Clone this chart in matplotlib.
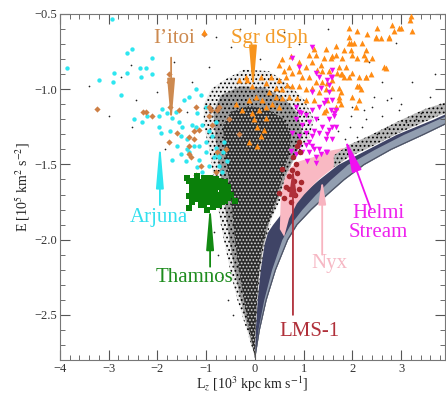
import matplotlib
matplotlib.use('Agg')
import matplotlib.pyplot as plt
from matplotlib.patches import Polygon
from matplotlib.ticker import MultipleLocator

plt.rcParams['font.family'] = ['Liberation Serif', 'DejaVu Serif']
plt.rcParams['mathtext.fontset'] = 'stix'
plt.rcParams['hatch.linewidth'] = 0.8

# ---------------- data (Lz [1e3 kpc km/s], E [1e5 km^2/s^2]) ----------------
arjuna = [(-2.94, -0.53), (-3.86, -0.86), (-3.20, -0.94), (-2.92, -0.95), (-2.52, -0.73), (-2.63, -0.76),
          (-2.90, -0.89), (-2.63, -0.89), (-2.36, -0.86), (-2.24, -0.86), (-2.11, -0.79), (-2.34, -0.92),
          (-2.11, -0.90), (-2.75, -1.04), (-1.91, -1.13), (-1.97, -1.18), (-1.81, -1.16), (-1.62, -1.15),
          (-1.21, -1.00), (-1.36, -1.05), (-1.46, -1.07), (-1.11, -1.04), (-1.70, -1.19), (-1.56, -1.22),
          (-1.19, -1.16), (-1.01, -1.12), (-2.48, -1.20), (-2.32, -1.22), (-2.22, -1.18), (-1.97, -1.25),
          (-1.93, -1.29), (-1.75, -1.28), (-1.52, -1.31), (-1.21, -1.25), (-1.09, -1.24), (-0.94, -1.28),
          (-0.80, -1.22), (-1.60, -1.38), (-1.52, -1.43), (-1.36, -1.42), (-1.15, -1.38), (-1.01, -1.35),
          (-0.88, -1.31), (-1.15, -1.47), (-1.01, -1.42), (-0.80, -1.39), (-0.74, -1.45), (-0.64, -1.35),
          (-1.19, -1.52), (-1.09, -1.55), (-0.94, -1.51), (-0.74, -1.51), (-0.68, -1.55), (-1.29, -1.24),
          (-1.40, -1.40), (-1.70, -1.47), (-1.42, -1.48), (-1.25, -1.38), (-0.84, -1.45), (-0.78, -1.43),
          (-1.40, -1.33), (-1.50, -1.25), (-0.57, -1.48), (-0.66, -1.42)]

itoi = [(-3.24, -1.13), (-2.30, -1.15), (-2.11, -1.18), (-2.24, -1.15), (-1.77, -0.95), (-1.77, -0.90),
        (-1.75, -1.12), (-1.56, -1.14), (-1.77, -1.35), (-1.05, -0.63), (-1.21, -1.12), (-0.94, -1.12),
        (-1.60, -1.29), (-1.36, -1.32), (-1.25, -1.28), (-1.15, -1.27), (-0.94, -1.18), (-1.31, -1.45),
        (-1.11, -1.51), (-1.21, -1.57), (-0.78, -1.42), (-0.80, -1.55), (-0.88, -1.24), (-1.36, -1.38),
        (-1.25, -1.33), (-0.90, -1.14), (-0.78, -1.14), (-1.36, -1.43), (-0.74, -1.12), (-0.53, -1.20),
        (-0.33, -1.30), (-0.60, -1.40)]

sgr = [(3.20, -0.51), (3.18, -0.54), (3.22, -0.61), (2.81, -0.57), (2.85, -0.61), (3.00, -0.59), (1.93, -0.59),
       (2.09, -0.61), (2.30, -0.63), (2.48, -0.66), (2.59, -0.66), (2.75, -0.65), (1.93, -0.65), (1.97, -0.69),
       (2.03, -0.69), (2.20, -0.69), (2.28, -0.74), (1.83, -0.74), (1.97, -0.74), (1.66, -0.71), (1.46, -0.73),
       (1.21, -0.73), (1.25, -0.77), (1.42, -0.79), (1.56, -0.79), (1.66, -0.77), (1.79, -0.79), (1.99, -0.77),
       (2.09, -0.79), (2.28, -0.80), (2.40, -0.79), (2.65, -0.85), (2.69, -0.86), (1.72, -0.85), (1.87, -0.85),
       (1.68, -0.89), (1.79, -0.90), (1.99, -0.89), (2.14, -0.92), (2.28, -0.92), (2.38, -0.90), (2.14, -0.98),
       (2.18, -1.00), (1.99, -1.05), (2.14, -1.07), (2.07, -1.12), (1.58, -0.94), (1.11, -0.77), (0.90, -0.82),
       (1.05, -0.85), (1.17, -0.82), (1.36, -0.84), (1.27, -0.87), (1.38, -0.88), (1.52, -0.88), (0.90, -0.88),
       (0.76, -0.89), (0.97, -0.92), (1.11, -0.92), (1.25, -0.95), (1.38, -0.95), (1.48, -0.96), (0.64, -0.92),
       (0.49, -0.94), (0.43, -0.99), (0.55, -1.00), (0.66, -0.97), (0.76, -0.98), (0.90, -0.98), (1.05, -1.00),
       (1.17, -0.99), (1.31, -1.02), (1.46, -1.00), (1.58, -0.99), (0.29, -1.02), (0.43, -1.05), (0.55, -1.06),
       (0.70, -1.05), (0.86, -1.06), (1.05, -1.07), (1.21, -1.07), (0.14, -1.07), (0.23, -1.12), (0.35, -1.10),
       (0.49, -1.12), (0.08, -1.14), (-0.06, -1.16), (-0.12, -1.07), (-0.27, -1.14), (0.02, -1.05), (-0.16, -0.94),
       (-0.06, -0.98), (0.12, -0.92), (0.23, -0.96), (0.33, -0.92), (0.49, -0.84), (0.55, -0.80), (0.74, -0.78),
       (0.70, -0.85), (0.60, -0.88), (-0.33, -0.94), (-0.18, -0.92), (-0.39, -1.10), (0.04, -1.25), (0.12, -1.31),
       (-0.12, -1.35), (0.04, -1.38), (0.18, -1.27), (-0.02, -1.20), (0.23, -1.19), (1.46, -1.14), (1.66, -1.12),
       (1.72, -1.05), (1.48, -1.07), (2.51, -0.59), (2.96, -0.59), (2.48, -0.65), (2.75, -0.66), (1.93, -0.69),
       (2.24, -0.77), (1.58, -0.78), (1.77, -0.90), (1.83, -0.92), (1.93, -0.92), (2.28, -0.92), (1.72, -0.99),
       (1.77, -1.02), (2.09, -0.98), (1.42, -1.15), (1.77, -1.10), (1.72, -1.07), (-1.05, -0.62)]

helmi = [(1.17, -0.72), (0.76, -0.79), (0.90, -0.85), (1.25, -0.89), (1.31, -0.92), (1.58, -0.87), (1.56, -0.92),
         (1.52, -0.97), (1.36, -0.99), (1.17, -1.02), (0.84, -1.12), (0.90, -1.15), (1.05, -1.17), (1.17, -1.14),
         (1.31, -1.12), (1.46, -1.07), (1.66, -1.14), (1.62, -1.18), (0.84, -1.20), (0.97, -1.24), (1.11, -1.22),
         (1.25, -1.20), (1.38, -1.25), (1.52, -1.27), (1.66, -1.25), (0.76, -1.29), (0.90, -1.31), (1.05, -1.29),
         (1.17, -1.31), (1.31, -1.29), (1.46, -1.33), (1.58, -1.33), (0.90, -1.38), (1.05, -1.37), (1.17, -1.38),
         (0.84, -1.43), (0.97, -1.42), (1.11, -1.42), (1.25, -1.45), (1.31, -1.40), (1.46, -1.42), (1.07, -1.48),
         (1.25, -1.49), (0.94, -1.16), (1.21, -1.28), (1.48, -1.30), (0.74, -1.41), (1.36, -1.43), (1.48, -1.42),
         (1.21, -1.40), (1.11, -1.35), (1.48, -0.94), (1.58, -0.92), (1.52, -1.02), (1.58, -1.07), (1.42, -1.09),
         (1.56, -1.14), (1.62, -1.16), (1.52, -1.20), (1.58, -1.25)]

lms1 = [(0.90, -1.35), (0.86, -1.38), (0.76, -1.54), (0.86, -1.56), (0.70, -1.58), (0.80, -1.61), (0.90, -1.66),
        (0.64, -1.65), (0.49, -1.69), (0.55, -1.53), (0.84, -1.50), (0.95, -1.62), (0.60, -1.72), (0.74, -1.75),
        (0.92, -1.42), (0.78, -1.45), (0.70, -1.66), (0.82, -1.70)]

thamnos = [(-1.40, -1.59), (-1.19, -1.58), (-1.05, -1.59), (-0.92, -1.59), (-0.80, -1.60),
           (-1.36, -1.61), (-1.23, -1.61), (-1.11, -1.62), (-0.99, -1.61), (-0.86, -1.62), (-0.74, -1.61), (-0.62, -1.62),
           (-1.29, -1.63), (-1.17, -1.64), (-1.05, -1.63), (-0.93, -1.64), (-0.80, -1.63), (-0.68, -1.64),
           (-1.23, -1.65), (-1.11, -1.66), (-0.99, -1.65), (-0.86, -1.66), (-0.74, -1.65), (-0.62, -1.66), (-0.55, -1.65),
           (-1.29, -1.67), (-1.17, -1.68), (-1.04, -1.67), (-0.92, -1.68), (-0.81, -1.67), (-0.68, -1.68), (-0.56, -1.69),
           (-1.22, -1.70), (-1.11, -1.69), (-0.98, -1.70), (-0.86, -1.69), (-0.74, -1.70), (-0.62, -1.70),
           (-1.36, -1.71), (-1.17, -1.72), (-1.05, -1.71), (-0.92, -1.72), (-0.80, -1.71), (-0.67, -1.72), (-0.55, -1.72),
           (-0.49, -1.70), (-1.23, -1.73), (-1.10, -1.74), (-0.99, -1.73), (-0.87, -1.74), (-0.74, -1.73), (-0.62, -1.74),
           (-1.29, -1.75), (-1.05, -1.76), (-0.92, -1.75), (-0.80, -1.76), (-0.68, -1.75), (-0.41, -1.74),
           (-1.11, -1.77), (-0.86, -1.78), (-0.74, -1.77), (-1.36, -1.79), (-0.99, -1.80)]

field_sparse = [(-3.41, -0.98), (-3.00, -1.18), (-2.44, -1.07), (-2.75, -0.92), (-2.55, -0.84), (-2.52, -1.25),
                (-1.66, -0.82), (2.34, -0.82), (2.90, -0.69), (2.79, -1.06), (2.71, -1.07), (3.22, -0.95),
                (2.40, -1.12), (1.99, -1.12), (2.24, -1.14), (1.97, -1.18), (2.96, -1.14), (3.31, -1.20),
                (3.57, -1.18), (2.28, -1.20), (2.50, -1.30), (2.70, -1.25), (3.10, -1.22), (3.40, -1.16),
                (2.10, -1.32), (1.85, -1.33), (2.20, -1.25), (1.70, -1.28), (1.95, -1.25), (2.60, -1.18),
                (3.00, -1.10), (3.60, -1.05), (3.80, -1.10), (2.45, -1.05), (-0.50, -0.72), (0.10, -0.80),
                (-0.80, -0.65), (0.90, -0.70), (1.50, -0.60), (-0.30, -0.60), (0.60, -0.62), (-1.30, -0.95),
                (-2.00, -1.02), (-1.40, -1.15), (-0.95, -0.85), (-1.85, -1.40), (3.70, -0.90), (2.60, -0.95),
                (-0.75, -2.10), (-0.68, -2.25), (-0.55, -2.40), (-0.85, -1.95), (-0.45, -2.50), (1.30, -1.20)]

# field-halo cloud envelopes (sparse halo, intermediate, dense core)
cloud_outer = [(0.00, -2.78), (-0.18, -2.59), (-0.37, -2.39), (-0.49, -2.23), (-0.60, -2.06), (-0.70, -1.90),
               (-0.78, -1.73), (-0.86, -1.57), (-0.94, -1.40), (-1.05, -1.24), (-1.05, -1.10), (-0.90, -1.00),
               (-0.64, -0.94), (-0.23, -0.87), (0.29, -0.88), (0.70, -0.97), (1.01, -1.07), (1.21, -1.20),
               (1.11, -1.33), (0.80, -1.47), (0.60, -1.60), (0.53, -1.73), (0.35, -1.86), (0.20, -2.03),
               (0.12, -2.20), (0.06, -2.39), (0.02, -2.59)]
cloud_mid = [(0.00, -2.78), (-0.15, -2.59), (-0.30, -2.39), (-0.42, -2.20), (-0.51, -2.03), (-0.59, -1.85),
             (-0.66, -1.66), (-0.75, -1.48), (-0.82, -1.30), (-0.85, -1.15), (-0.70, -1.04), (-0.30, -0.98),
             (0.20, -0.99), (0.60, -1.06), (0.88, -1.16), (0.98, -1.30), (0.85, -1.43), (0.62, -1.58),
             (0.48, -1.73), (0.30, -1.88), (0.17, -2.05), (0.09, -2.22), (0.04, -2.42), (0.01, -2.62)]
cloud_core = [(0.00, -2.78), (-0.12, -2.59), (-0.23, -2.39), (-0.33, -2.20), (-0.41, -2.00), (-0.47, -1.80),
              (-0.53, -1.60), (-0.62, -1.40), (-0.66, -1.24), (-0.49, -1.15), (-0.12, -1.11), (0.29, -1.14),
              (0.60, -1.20), (0.74, -1.30), (0.70, -1.43), (0.57, -1.57), (0.45, -1.73), (0.25, -1.90),
              (0.13, -2.08), (0.07, -2.25), (0.03, -2.46), (0.00, -2.66)]
cloud_edge = [(1.62, -1.52), (1.93, -1.45), (2.34, -1.39), (2.96, -1.29), (3.78, -1.175), (4.00, -1.15),
              (4.00, -1.08), (3.50, -1.13), (2.96, -1.21), (2.34, -1.31), (1.93, -1.37), (1.62, -1.44)]

# disc band (outlined as a function of E)
band_e = [-2.78, -2.6, -2.4, -2.2, -2.0, -1.9, -1.8, -1.7, -1.6, -1.5, -1.4, -1.3, -1.2, -1.12]
band_in = [0.0, -0.12, -0.2, -0.08, 0.15, 0.36, 0.6, 0.95, 1.31, 1.70, 2.3, 2.9, 3.65, 4.2]
band_mid = [0.0, 0.06, 0.18, 0.34, 0.55, 0.72, 0.96, 1.24, 1.55, 1.90, 2.45, 3.05, 3.75, 4.3]
band_out = [0.0, 0.09, 0.23, 0.42, 0.67, 0.86, 1.15, 1.48, 1.83, 2.24, 2.79, 3.46, 4.1, 4.6]

nyx_region = [(0.55, -1.60), (0.70, -1.53), (0.90, -1.48), (1.21, -1.45), (1.52, -1.41), (1.83, -1.39),
              (2.03, -1.40), (1.93, -1.45), (1.62, -1.52), (1.31, -1.60), (1.01, -1.70), (0.86, -1.76),
              (0.70, -1.86), (0.60, -1.98), (0.51, -1.93), (0.53, -1.73)]

x_ticks = [-4, -3, -2, -1, 0, 1, 2, 3]
y_ticks = [-2.5, -2.0, -1.5, -1.0, -0.5]


def xs(pts):
    return [p[0] for p in pts]


def ys(pts):
    return [p[1] for p in pts]


fig = plt.figure(figsize=(4.46, 3.96), dpi=100)
ax = fig.add_axes([60 / 446, 1 - 360 / 396, 385 / 446, 346 / 396])
ax.set_xlim(-4, 3.9)
ax.set_ylim(-2.8, -0.5)

# disc band
ax.fill_betweenx(band_e, band_in, band_out, color='#3f4466', lw=0, zorder=1)
ax.fill_betweenx(band_e, band_mid, band_out, color='#929eb0', lw=0, zorder=1.1)
ax.plot(band_out, band_e, color='#4a4f60', lw=0.8, zorder=1.2)

# Nyx region
ax.add_patch(Polygon(nyx_region, closed=True, facecolor='#F9B9C3', edgecolor='none', zorder=1.5))

# field halo cloud
ax.add_patch(Polygon(cloud_outer, closed=True, facecolor='#ececec', edgecolor='black', hatch='....',
                     lw=0, zorder=2))
ax.add_patch(Polygon(cloud_mid, closed=True, facecolor='#9c9c9c', edgecolor='black', hatch='....',
                     lw=0, zorder=2.05))
ax.add_patch(Polygon(cloud_core, closed=True, facecolor='#2c2c2c', edgecolor='#d8d8d8', hatch='.....',
                     lw=0, zorder=2.1))
ax.add_patch(Polygon(cloud_edge, closed=True, facecolor='#b8b8b8', edgecolor='black', hatch='....',
                     lw=0, zorder=2))
ax.scatter(xs(field_sparse), ys(field_sparse), s=1.5, c='#222222', lw=0, zorder=2)

# substructures
ax.scatter(xs(arjuna), ys(arjuna), s=10, c='#2EE6F0', marker='o', lw=0, zorder=3)
ax.scatter(xs(itoi), ys(itoi), s=10, c='#CD7F45', marker='D', lw=0, zorder=3)
ax.scatter(xs(sgr), ys(sgr), s=18, c='#FF8C14', marker='^', lw=0, zorder=3)
ax.scatter(xs(helmi), ys(helmi), s=16, c='#F010F0', marker='v', lw=0, zorder=3)
ax.scatter(xs(lms1), ys(lms1), s=16, c='#A8282E', marker='o', lw=0, zorder=3)
ax.scatter(xs(thamnos), ys(thamnos), s=16, c='#0A800A', marker='s', lw=0, zorder=3)


def arrow(x0, y0, x1, y1, color, hl=2.6, hw=0.22, lw=1.3):
    ax.annotate('', xy=(x1, y1), xytext=(x0, y0), zorder=4,
                arrowprops=dict(arrowstyle=f'-|>,head_length={hl},head_width={hw}', color=color,
                                lw=lw, shrinkA=0, shrinkB=0, mutation_scale=10))


arrow(-1.72, -0.79, -1.72, -1.24, '#CD8A50')
arrow(-0.04, -0.72, -0.04, -1.02, '#F7941D')
arrow(-1.95, -1.77, -1.95, -1.35, '#2EE6F0')
arrow(-0.92, -2.18, -0.92, -1.76, '#128A12')
arrow(0.78, -2.50, 0.78, -1.52, '#B0303A', hl=1.6)
arrow(1.38, -2.10, 1.38, -1.60, '#F8B4C0', hl=1.4)
arrow(2.38, -1.80, 1.85, -1.33, '#F010F0', hl=2.0, hw=0.3)

fs = 15
ax.text(-1.66, -0.66, 'I\u2019itoi', color='#CD8A50', fontsize=fs, ha='center', va='center', zorder=5)
ax.text(0.29, -0.66, 'Sgr dSph', color='#F39C2A', fontsize=fs, ha='center', va='center', zorder=5)
ax.text(-1.97, -1.85, 'Arjuna', color='#33E0EE', fontsize=fs, ha='center', va='center', zorder=5)
ax.text(-1.25, -2.25, 'Thamnos', color='#1E8C1E', fontsize=fs, ha='center', va='center', zorder=5)
ax.text(1.11, -2.61, 'LMS-1', color='#B0303A', fontsize=fs, ha='center', va='center', zorder=5)
ax.text(1.52, -2.16, 'Nyx', color='#F6B8C4', fontsize=fs, ha='center', va='center', zorder=5)
ax.text(2.53, -1.89, 'Helmi\nStream', color='#EE22EE', fontsize=fs, ha='center', va='center',
        linespacing=0.95, zorder=5)

# axes styling
ax.set_xticks(x_ticks)
ax.set_yticks(y_ticks)
ax.xaxis.set_minor_locator(MultipleLocator(0.2))
ax.yaxis.set_minor_locator(MultipleLocator(0.1))
ax.tick_params(which='both', direction='in', top=True, right=True, colors='#555555',
               labelcolor='#333333', labelsize=9, pad=2)
ax.tick_params(which='major', length=7, width=0.8)
ax.tick_params(which='minor', length=3.5, width=0.6)
for s in ax.spines.values():
    s.set_color('#777777')
    s.set_linewidth(0.8)

ax.set_xlabel(r'L$_z$ [10$^3$ kpc km s$^{-1}$]', fontsize=10, color='#222222', labelpad=0)
ax.set_ylabel(r'E [10$^5$ km$^2$ s$^{-2}$]', fontsize=10, color='#222222', labelpad=2)

fig.savefig('out.png', dpi=100)
